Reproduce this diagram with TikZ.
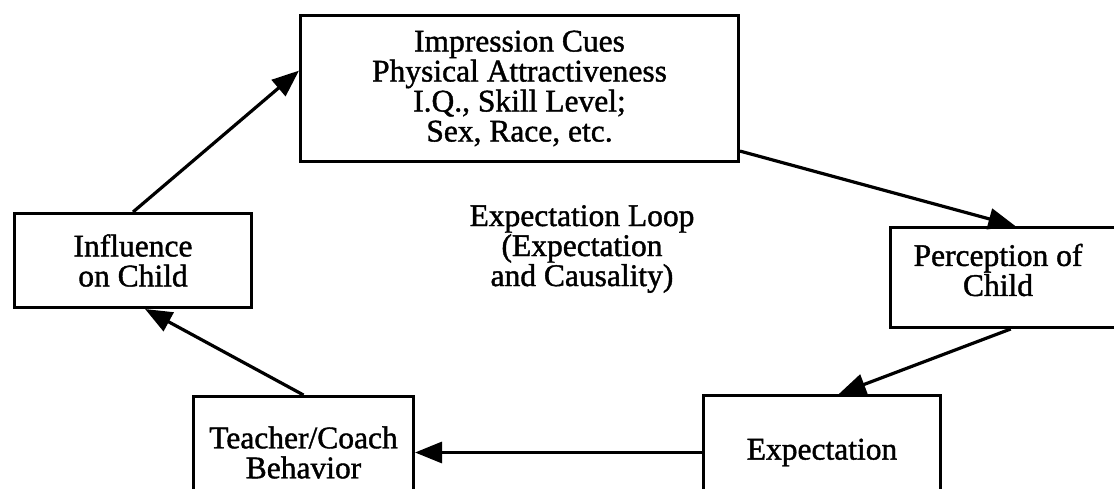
\documentclass[tikz,border=0pt]{standalone}
\usepackage{fontspec}
\setmainfont{Liberation Serif}
\newfontfamily\heavy{Liberation Serif}[FakeBold=1.3]
\usetikzlibrary{arrows.meta,calc}
\begin{document}
\begin{tikzpicture}[x=1pt,y=-1pt,
  txt/.style={font=\heavy\fontsize{31.5}{30}\selectfont},
  box/.style={draw=black,line width=3pt,fill=white,rectangle,inner sep=0pt,align=center,txt},
  conn/.style={line width=3.2pt,-{Triangle[length=27pt,width=21pt]}},
  lbl/.style={align=center,txt}]
\useasboundingbox (0,0) rectangle (1114,489);
\fill[white] (0,0) rectangle (1114,489);
\clip (0,0) rectangle (1114,489);
% boxes
\node[box,minimum width=438pt,minimum height=146pt,anchor=north west] (top) at (299,14)
  {Impression Cues\\Physical Attractiveness\\I.Q., Skill Level;\\Sex, Race, etc.};
\node[box,minimum width=237pt,minimum height=94pt,anchor=north west] (infl) at (13,212)
  {Influence\\on Child};
\node[box,minimum width=231pt,minimum height=100pt,anchor=north west] (perc) at (889,226) {};
\node[lbl] (perct) at (998,270) {Perception of\\Child};
\node[box,minimum width=220pt,minimum height=112pt,anchor=north west] (teach) at (192,395)
  {Teacher/Coach\\Behavior};
\node[box,minimum width=237pt,minimum height=114pt,anchor=north west] (exp) at (702,394)
  {Expectation};
\node[lbl] (loop) at (582,249) {Expectation Loop\\(Expectation\\and Causality)};
% connectors
\draw[conn] (infl.north) -- ($(top.north west)!0.38!(top.south west)$);
\draw[conn] ($(top.south east)!0.08!(top.north east)$) -- ($(perc.north west)!0.54!(perc.north east)$);
\draw[conn] ($(perc.south west)!0.52!(perc.south east)$) -- ($(exp.north west)!0.57!(exp.north east)$);
\draw[conn] (exp.west) -- (teach.east);
\draw[conn] (teach.north) -- ($(infl.south west)!0.55!(infl.south east)$);
\end{tikzpicture}
\end{document}
